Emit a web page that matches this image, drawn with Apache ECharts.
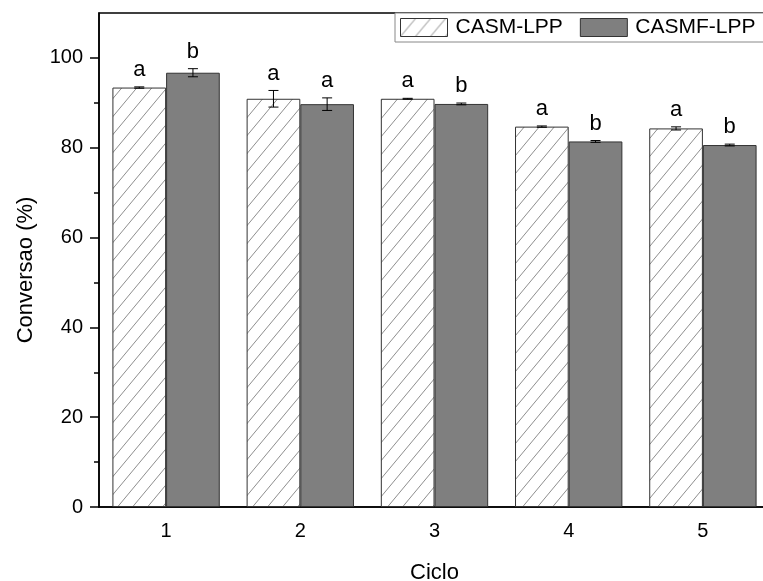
<!DOCTYPE html>
<html><head><meta charset="utf-8">
<script src="https://cdn.jsdelivr.net/npm/echarts@6/dist/echarts.min.js"></script>
<style>html,body{margin:0;padding:0;background:#fff}#c{width:763px;height:581px}</style>
</head><body><div id="c"></div>
<script>
const categories = ['1', '2', '3', '4', '5'];
const casmValues = [93.4, 90.9, 90.9, 84.7, 84.3];
const casmErrors = [0.15, 1.85, 0.1, 0.15, 0.35];
const casmLetters = ['a', 'a', 'a', 'a', 'a'];
const casmfValues = [96.7, 89.7, 89.75, 81.4, 80.6];
const casmfErrors = [0.9, 1.4, 0.2, 0.2, 0.2];
const casmfLetters = ['b', 'a', 'b', 'b', 'b'];
const yTicks = [0, 20, 40, 60, 80, 100];
const yMinorTicks = [10, 30, 50, 70, 90];

const FONT = 'Liberation Sans, Arial, sans-serif';

function hatch() {
  const w = 15, h = 18;
  const c = document.createElement('canvas');
  c.width = w; c.height = h;
  const g = c.getContext('2d');
  g.fillStyle = '#fff';
  g.fillRect(0, 0, w, h);
  g.strokeStyle = '#808080';
  g.lineWidth = 0.9;
  for (const o of [-w, 0, w]) {
    g.beginPath();
    g.moveTo(o, h);
    g.lineTo(o + w, 0);
    g.stroke();
  }
  return c;
}
const hatchPattern = { image: hatch(), repeat: 'repeat' };

function errRender(letters, off) {
  return function (params, api) {
    const i = api.value(0), v = api.value(1), e = api.value(2);
    const band = api.size([1, 0])[0];
    const x = api.coord([i, v])[0] + off * band;
    const yt = api.coord([i, v + e])[1];
    const yb = api.coord([i, v - e])[1];
    const hw = 5;
    const st = { stroke: '#000', lineWidth: 1 };
    return {
      type: 'group', children: [
        { type: 'line', shape: { x1: x, y1: yt, x2: x, y2: yb }, style: st },
        { type: 'line', shape: { x1: x - hw, y1: yt, x2: x + hw, y2: yt }, style: st },
        { type: 'line', shape: { x1: x - hw, y1: yb, x2: x + hw, y2: yb }, style: st },
        { type: 'text', style: { text: letters[params.dataIndex], x: x, y: yt - 6, align: 'center', verticalAlign: 'bottom', fontSize: 22, fontFamily: FONT, fill: '#000' } }
      ]
    };
  };
}

const chart = echarts.init(document.getElementById('c'), null, { renderer: 'canvas' });
chart.setOption({
  animation: false,
  backgroundColor: '#fff',
  grid: { left: 99, right: -7, top: 13, bottom: 74, outerBoundsMode: 'none', containLabel: false, show: true, borderColor: '#000', borderWidth: 1.5, backgroundColor: 'transparent' },
  legend: {
    data: ['CASM-LPP', 'CASMF-LPP'],
    icon: 'rect',
    left: 395, top: 13, width: 420,
    itemWidth: 47, itemHeight: 18, itemGap: 17,
    padding: [4, 30, 4, 5],
    borderColor: '#888', borderWidth: 1, backgroundColor: '#fff',
    itemStyle: { borderColor: '#333', borderWidth: 1 },
    textStyle: { fontSize: 21, fontFamily: FONT, color: '#000', padding: [0, 0, 0, 3] }
  },
  xAxis: {
    type: 'category', data: categories,
    axisLine: { lineStyle: { color: '#000', width: 1.5 } },
    axisTick: { alignWithLabel: true, length: 8, lineStyle: { color: '#000', width: 1.5 } },
    axisLabel: { fontSize: 20, fontFamily: FONT, color: '#000', margin: 14 },
    name: 'Ciclo', nameLocation: 'middle', nameGap: 55,
    nameTextStyle: { fontSize: 22, fontFamily: FONT, color: '#000' }
  },
  yAxis: [{
    type: 'value', min: 0, max: 110,
    axisLine: { show: true, lineStyle: { color: '#000', width: 1.5 } },
    axisTick: { show: true, length: 9, customValues: yTicks, lineStyle: { color: '#000', width: 1.5 } },
    axisLabel: { customValues: yTicks, fontSize: 20, fontFamily: FONT, color: '#000', margin: 16 },
    splitLine: { show: false },
    name: 'Conversao (%)', nameLocation: 'middle', nameGap: 62,
    nameTextStyle: { fontSize: 22, fontFamily: FONT, color: '#000', padding: [0, 20, 0, 0] }
  }, {
    type: 'value', min: 0, max: 110, position: 'left',
    axisLine: { show: false },
    axisTick: { show: true, length: 5, customValues: yMinorTicks, lineStyle: { color: '#000', width: 1.5 } },
    axisLabel: { show: false },
    splitLine: { show: false }
  }],
  series: [
    {
      name: 'CASM-LPP', type: 'bar', data: casmValues,
      barCategoryGap: '20%', barGap: '0%',
      itemStyle: { color: hatchPattern, borderColor: '#333', borderWidth: 1 }
    },
    {
      name: 'CASMF-LPP', type: 'bar', data: casmfValues,
      barCategoryGap: '20%', barGap: '0%',
      itemStyle: { color: '#7f7f7f', borderColor: '#333', borderWidth: 1 }
    },
    {
      type: 'custom', renderItem: errRender(casmLetters, -0.2), z: 10,
      data: casmValues.map((v, i) => [i, v, casmErrors[i]]),
      encode: { x: 0, y: 1 }
    },
    {
      type: 'custom', renderItem: errRender(casmfLetters, 0.2), z: 10,
      data: casmfValues.map((v, i) => [i, v, casmfErrors[i]]),
      encode: { x: 0, y: 1 }
    }
  ]
});
</script>
</body></html>
